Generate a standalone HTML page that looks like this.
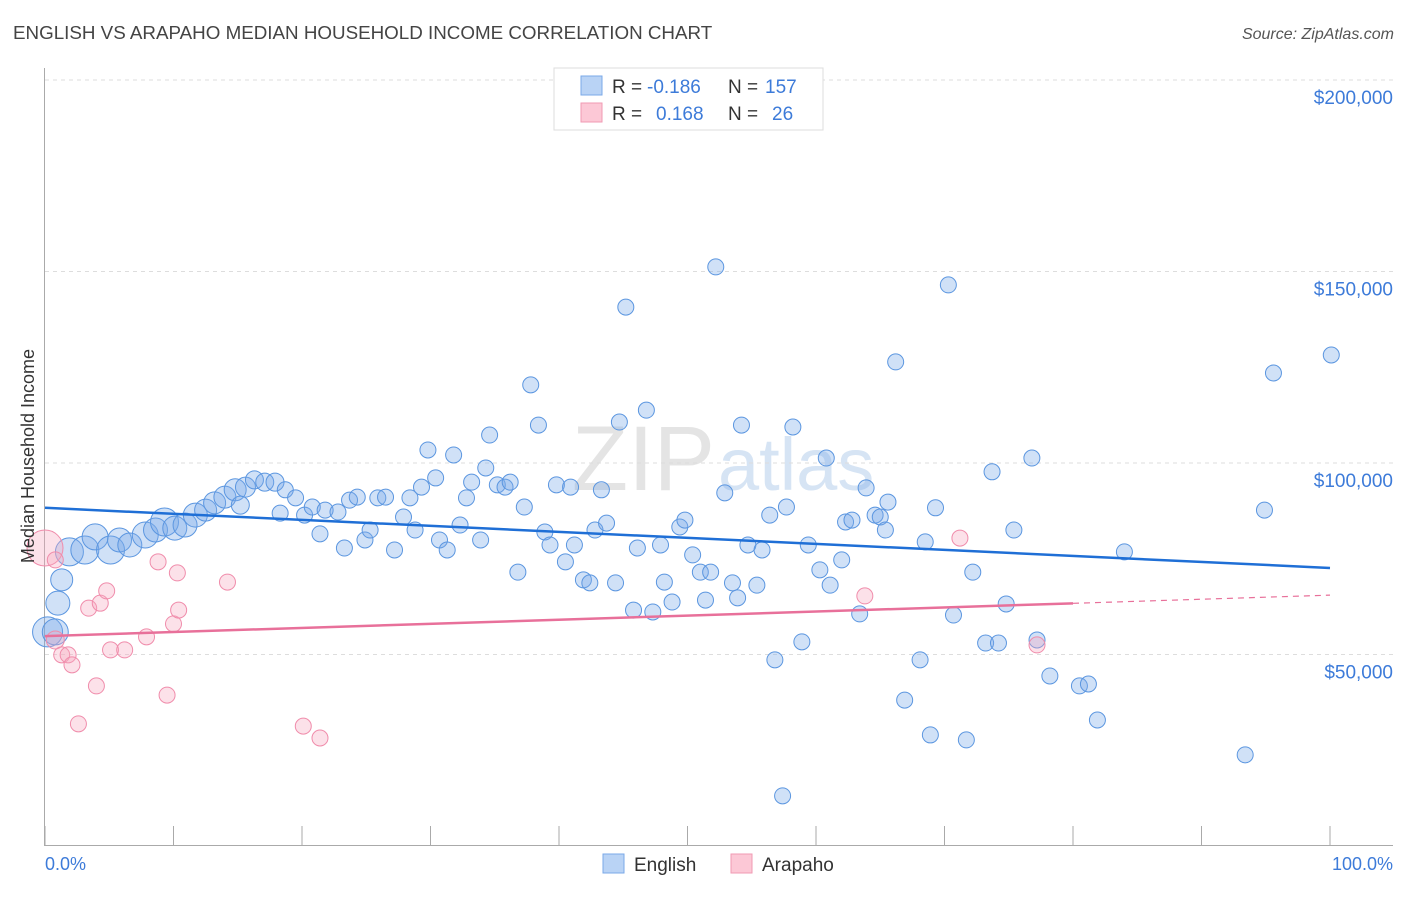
<!DOCTYPE html>
<html><head><meta charset="utf-8"><style>
body{margin:0;background:#fff;font-family:"Liberation Sans",Arial,sans-serif;}
svg text{font-family:"Liberation Sans",Arial,sans-serif;}
</style></head><body>
<svg id="chart" width="1406" height="892" viewBox="0 0 1406 892">
<text x="13" y="39" font-size="18.8" fill="#444">ENGLISH VS ARAPAHO MEDIAN HOUSEHOLD INCOME CORRELATION CHART</text>
<text x="1394" y="39" font-size="16" fill="#555" text-anchor="end" font-style="italic">Source: ZipAtlas.com</text>
<text x="715" y="490" font-size="92" fill="#e4e4e4" text-anchor="end" font-family="Liberation Serif">ZIP</text>
<text x="718" y="490" font-size="74" fill="#d6e4f4">atlas</text>
<g id="grid"></g>
<g id="points"></g>
<g id="lines"></g>
<text transform="translate(34,456) rotate(-90)" font-size="18" fill="#333" text-anchor="middle">Median Household Income</text>
<text x="45" y="870" font-size="18" fill="#3d7bd9">0.0%</text>
<text x="1393" y="870" font-size="18" fill="#3d7bd9" text-anchor="end">100.0%</text>
<g>
<rect x="554" y="68" width="269" height="62" fill="#fff" stroke="#ddd"/>
<rect x="581" y="76" width="21" height="19" fill="#b9d3f5" stroke="#7aa8e8"/>
<rect x="581" y="103" width="21" height="19" fill="#fcc8d6" stroke="#f09ab3"/>
<text x="612" y="93" font-size="19" fill="#333">R = </text><text x="647" y="93" font-size="19" fill="#3d7bd9">-0.186</text>
<text x="728" y="93" font-size="19" fill="#333">N = </text><text x="765" y="93" font-size="19" fill="#3d7bd9">157</text>
<text x="612" y="120" font-size="19" fill="#333">R = </text><text x="656" y="120" font-size="19" fill="#3d7bd9">0.168</text>
<text x="728" y="120" font-size="19" fill="#333">N = </text><text x="772" y="120" font-size="19" fill="#3d7bd9">26</text>
</g>
<g>
<rect x="603" y="854" width="21" height="19" fill="#b9d3f5" stroke="#7aa8e8"/>
<text x="634" y="871" font-size="19" fill="#333">English</text>
<rect x="731" y="854" width="21" height="19" fill="#fcc8d6" stroke="#f09ab3"/>
<text x="762" y="871" font-size="19" fill="#333">Arapaho</text>
</g>
</svg>
<script>
const yTicks=[50000,100000,150000,200000];
const yTickLabels=["$50,000","$100,000","$150,000","$200,000"];
const xTicks=[0,10,20,30,40,50,60,70,80,90,100];
const englishX=[0.2,0.8,1.0,1.3,1.9,3.1,3.9,5.1,5.8,6.6,7.8,8.6,9.3,10.1,10.9,11.7,12.5,13.2,14.0,14.8,15.6,16.3,17.1,17.9,15.2,18.7,18.3,19.5,20.2,20.8,21.4,21.8,22.8,23.3,23.7,24.3,24.9,25.3,25.9,26.5,27.2,27.9,28.4,28.8,29.3,29.8,30.4,30.7,31.3,31.8,32.3,32.8,33.2,33.9,34.3,34.6,35.2,35.8,36.2,36.8,37.3,37.8,38.4,38.9,39.3,39.8,40.5,40.9,41.2,41.9,42.4,42.8,43.3,43.7,44.4,44.7,45.2,45.8,46.1,46.8,47.3,47.9,48.2,48.8,49.4,49.8,50.4,51.0,51.4,51.8,52.2,52.9,53.5,53.9,54.2,54.7,55.4,55.8,56.4,56.8,57.7,57.4,58.2,58.9,59.4,60.3,60.8,61.1,62.0,62.3,62.8,63.4,63.9,64.6,65.0,65.4,65.6,66.2,66.9,68.1,68.5,68.9,69.3,70.3,70.7,71.7,72.2,73.2,73.7,74.2,74.8,75.4,76.8,77.2,78.2,80.5,81.2,81.9,84.0,93.4,94.9,95.6,100.1];
const englishY=[55.9,55.9,63.4,69.5,76.8,77.3,80.7,77.3,79.9,78.6,81.2,82.5,84.6,83.0,83.8,86.4,87.7,89.6,91.1,93.0,93.7,95.6,95.0,95.0,89.0,93.0,86.9,90.9,86.4,88.5,81.5,87.7,87.2,77.8,90.3,91.1,79.9,82.5,90.9,91.1,77.3,85.9,90.9,82.5,93.7,103.4,96.1,79.9,77.3,102.1,83.8,90.9,95.0,79.9,98.7,107.3,94.3,93.7,95.0,71.5,88.5,120.4,109.9,82.0,78.6,94.3,74.2,93.7,78.6,69.5,68.7,82.5,93.0,84.3,68.7,110.7,140.7,61.6,77.8,113.8,61.1,78.6,68.9,63.7,83.3,85.1,76.0,71.5,64.2,71.5,151.2,92.2,68.7,64.8,109.9,78.6,68.1,77.3,86.4,48.6,88.5,13.1,109.4,53.3,78.6,72.1,101.3,68.1,74.7,84.6,85.1,60.6,93.5,86.4,85.9,82.5,89.8,126.4,38.1,48.6,79.4,29.0,88.3,146.5,60.3,27.7,71.5,53.0,97.7,53.0,63.2,82.5,101.3,53.8,44.4,41.8,42.3,32.9,76.8,23.8,87.7,123.5,128.2];
const englishWeight=[15,13,12,11,14,14,13,14,12,12,13,12,14,12,12,12,11,11,11,11,10,9,9,9,9];
const arapahoX=[0,0.8,0.8,1.3,1.8,2.1,2.6,3.4,4.0,4.3,4.8,5.1,6.2,7.9,8.8,9.5,10.0,10.3,10.4,14.2,20.1,21.4,63.8,71.2,77.2];
const arapahoY=[77.8,74.7,53.8,49.9,49.9,47.3,31.9,62.1,41.8,63.4,66.6,51.2,51.2,54.6,74.2,39.4,58.0,71.3,61.6,68.9,31.3,28.2,65.3,80.4,52.5];
const arapahoWeight=[18,8,9];
const englishTrend=[88.3,72.6];
const arapahoTrend=[54.8,65.5];
const NS="http://www.w3.org/2000/svg";
const X=p=>45+p*12.85;
const Y=v=>463-(v-100000)*191.5/50000;
const grid=document.getElementById('grid');
function mk(tag,attrs,parent){const e=document.createElementNS(NS,tag);for(const k in attrs)e.setAttribute(k,attrs[k]);parent.appendChild(e);return e;}
yTicks.forEach((t,i)=>{
 const l=mk('line',{x1:45,x2:1393,y1:Y(t),y2:Y(t),stroke:'#ddd','stroke-dasharray':'4,4'},grid);
 
 
 const tx=mk('text',{x:1393,y:Y(t)+24,'font-size':19,fill:'#3d7bd9','text-anchor':'end'},grid);
 tx.textContent=yTickLabels[i];
 
 
});
const ax=mk('line',{x1:44.5,x2:44.5,y1:68,y2:846,stroke:'#aaa'},grid);


const bx=mk('line',{x1:44,x2:1393,y1:845.5,y2:845.5,stroke:'#aaa'},grid);


xTicks.forEach(t=>{
 const l=mk('line',{x1:X(t),x2:X(t),y1:826,y2:845,stroke:'#aaa'},grid);
 
 
});
const pts=document.getElementById('points');
englishX.forEach((x,i)=>{
 const c=mk('circle',{cx:X(x),cy:Y(englishY[i]*1000),r:englishWeight[i]||8,fill:'rgba(120,170,232,0.35)',stroke:'#5b96e0','stroke-width':1},pts);
 
 
});
arapahoX.forEach((x,i)=>{
 const c=mk('circle',{cx:X(x),cy:Y(arapahoY[i]*1000),r:arapahoWeight[i]||8,fill:'rgba(246,170,192,0.35)',stroke:'#f08cab','stroke-width':1},pts);
 
 
});
const ln=document.getElementById('lines');
const bl=mk('line',{x1:X(0),y1:Y(englishTrend[0]*1000),x2:X(100),y2:Y(englishTrend[1]*1000),stroke:'#1f6fd6','stroke-width':2.5},ln);


const pm=arapahoTrend[0]+(arapahoTrend[1]-arapahoTrend[0])*0.8;
const pl=mk('line',{x1:X(0),y1:Y(arapahoTrend[0]*1000),x2:X(80),y2:Y(pm*1000),stroke:'#e8709a','stroke-width':2.5},ln);


const pd=mk('line',{x1:X(80),y1:Y(pm*1000),x2:X(100),y2:Y(arapahoTrend[1]*1000),stroke:'#e8709a','stroke-width':1.2,'stroke-dasharray':'6,5'},ln);


</script>
</body></html>
